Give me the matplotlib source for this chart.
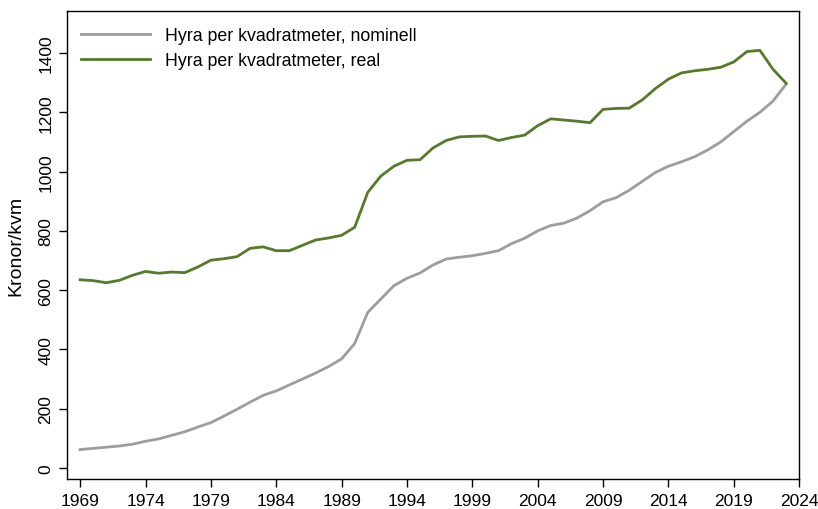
import numpy as np
import matplotlib.pyplot as plt

plt.rcParams['font.family'] = ['Liberation Sans', 'DejaVu Sans']

years = np.arange(1969, 2024)

nominell = [62, 66, 70, 74, 80, 90, 98, 110, 122, 138,
            153, 175, 198, 222, 245, 260, 280, 300, 320, 342,
            368, 420, 525, 570, 615, 640, 658, 685, 705, 711,
            716, 724, 733, 757, 775, 800, 818, 826, 843, 868,
            898, 912, 937, 967, 997, 1018, 1033, 1050, 1073, 1100,
            1135, 1170, 1200, 1238, 1295]

real = [635, 632, 625, 633, 650, 663, 657, 661, 659, 678,
        701, 706, 713, 741, 746, 733, 733, 751, 769, 776,
        785, 812, 930, 985, 1018, 1038, 1040, 1080, 1105, 1117,
        1119, 1120, 1105, 1115, 1123, 1155, 1178, 1174, 1170, 1165,
        1210, 1213, 1214, 1242, 1280, 1312, 1333, 1340, 1345, 1352,
        1370, 1405, 1409, 1345, 1298]

xticks = np.arange(1969, 2025, 5)
yticks = np.arange(0, 1401, 200)

fig = plt.figure(figsize=(8.18, 5.10), dpi=100)
ax = fig.add_axes([0.082, 0.059, 0.895, 0.917])

ax.plot(years, nominell, color='#9d9d9d', lw=2, label='Hyra per kvadratmeter, nominell')
ax.plot(years, real, color='#557a2a', lw=2, label='Hyra per kvadratmeter, real')

ax.set_xlim(1968, 2024)
ax.set_ylim(-37, 1541)
ax.set_xticks(xticks)
ax.set_yticks(yticks)
ax.tick_params(labelsize=12.5, direction='out', length=6, width=1, color='black', pad=4)
ax.tick_params(axis='y', labelrotation=90)
for t in ax.get_yticklabels():
    t.set_va('center')
ax.set_ylabel('Kronor/kvm', fontsize=14)
ax.yaxis.set_label_coords(-0.058, 0.5)

for s in ax.spines.values():
    s.set_color('black')
    s.set_linewidth(1)

# legend sits inside the top-left corner, no frame
ax.legend(loc='upper left', bbox_to_anchor=(0.0096, 0.982), frameon=False,
          fontsize=12.8, handlelength=3.87, handletextpad=0.83,
          borderaxespad=0, labelspacing=0.45)

fig.savefig('out.png', dpi=100)
